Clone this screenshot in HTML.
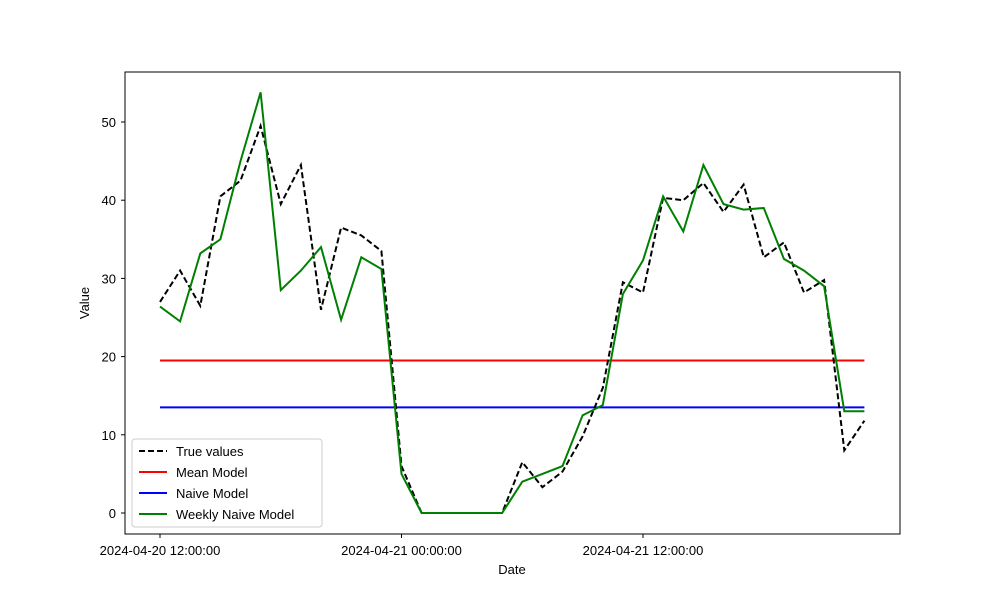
<!DOCTYPE html>
<html><head><meta charset="utf-8"><style>
body{margin:0;background:#fff;}
text{font-family:"Liberation Sans","DejaVu Sans",sans-serif;font-size:13px;fill:#000;}
</style></head><body>
<svg id="chart" width="1000" height="600" xmlns="http://www.w3.org/2000/svg">
<rect x="0" y="0" width="1000" height="600" fill="#fff"/>
<g id="plot"></g>
<rect x="125" y="72" width="775" height="462" fill="none" stroke="#000" stroke-width="1"/>
<g id="axes"></g>
<text x="512" y="574" text-anchor="middle">Date</text>
<text x="0" y="0" transform="translate(89,303) rotate(-90)" text-anchor="middle">Value</text>
<g>
<rect x="132" y="439" width="190" height="88" fill="#fff" fill-opacity="0.8" stroke="#ccc" rx="3"/>
<g><line x1="139" y1="451" x2="167" y2="451" stroke="#000" stroke-width="2" stroke-dasharray="6,3"/><text x="176" y="456">True values</text></g>
<g><line x1="139" y1="472" x2="167" y2="472" stroke="red" stroke-width="2"/><text x="176" y="477">Mean Model</text></g>
<g><line x1="139" y1="493" x2="167" y2="493" stroke="blue" stroke-width="2"/><text x="176" y="498">Naive Model</text></g>
<g><line x1="139" y1="514" x2="167" y2="514" stroke="green" stroke-width="2"/><text x="176" y="519">Weekly Naive Model</text></g>
</g>
</svg>
<script>
const trueValues=[27,31,26.5,40.5,42.5,49.5,39.5,44.5,26,36.5,35.5,33.5,6,0,0,0,0,0,6.5,3.3,5.3,9.8,16,29.5,28.2,40.3,40,42.2,38.5,42,32.7,34.6,28.2,29.8,8,11.8];
const weeklyValues=[26.4,24.5,33.2,35,45,53.8,28.5,31,34,24.7,32.7,31.2,5,0,0,0,0,0,4,5,6,12.5,13.8,28,32.3,40.5,36,44.5,39.5,38.8,39,32.5,31,29,13,13];
const meanValue=19.5;
const naiveValue=13.5;
const yTicks=[0,10,20,30,40,50];
const xTickHours=[0,12,24];
const xTickLabels=["2024-04-20 12:00:00","2024-04-21 00:00:00","2024-04-21 12:00:00"];
const NS="http://www.w3.org/2000/svg";
function xs(h){return 160+h*(483/24);}
function ys(v){return 513-v*7.82;}
const plot=document.getElementById('plot'),axes=document.getElementById('axes');
function mk(t,a,p){const e=document.createElementNS(NS,t);for(const k in a)e.setAttribute(k,a[k]);p.appendChild(e);return e;}
function line(vals,color,dash,name){
  const pts=vals.map((v,i)=>xs(i).toFixed(1)+','+ys(v).toFixed(1)).join(' ');
  const e=mk('polyline',{points:pts,fill:'none',stroke:color,'stroke-width':2},plot);
  if(dash)e.setAttribute('stroke-dasharray',dash);
  
  
}
const n=trueValues.length;
line(Array(n).fill(meanValue),'red',null,'mean-model-line');
line(Array(n).fill(naiveValue),'blue',null,'naive-model-line');
line(trueValues,'#000','6,3','true-values-line');
line(weeklyValues,'green',null,'weekly-naive-model-line');
yTicks.forEach(v=>{
  mk('line',{x1:121,x2:125,y1:ys(v),y2:ys(v),stroke:'#000'},axes);
  const t=mk('text',{x:116,y:ys(v)+5,'text-anchor':'end'},axes);t.textContent=v;
  
  
});
xTickHours.forEach((h,i)=>{
  mk('line',{x1:xs(h),x2:xs(h),y1:534,y2:538,stroke:'#000'},axes);
  const t=mk('text',{x:xs(h),y:555,'text-anchor':'middle'},axes);t.textContent=xTickLabels[i];
  
  
});
</script>
</body></html>
